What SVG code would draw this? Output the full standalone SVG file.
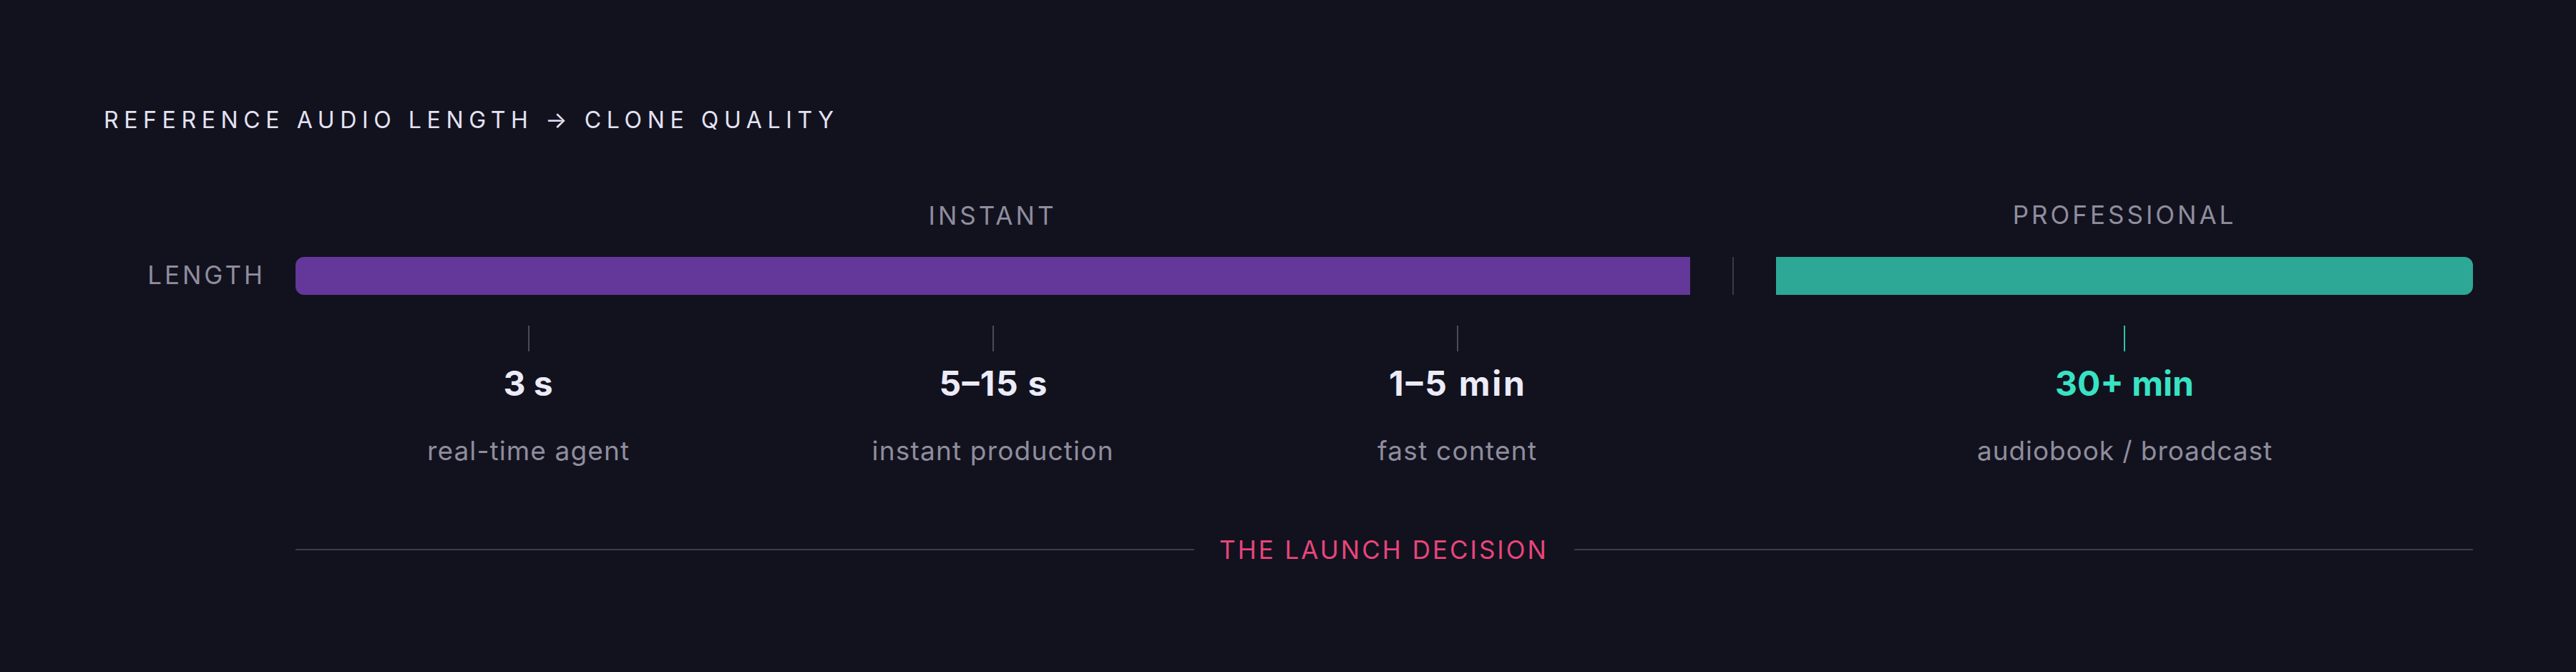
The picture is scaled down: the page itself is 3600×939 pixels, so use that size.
<svg xmlns="http://www.w3.org/2000/svg" width="3600" height="939" viewBox="0 0 3600 939">
<style>
.cap{font-family:Inter,"Liberation Sans",sans-serif;font-size:35px;fill:#8f8d9e;letter-spacing:4px}
.title{font-family:Inter,"Liberation Sans",sans-serif;font-size:32px;fill:#e4e2f2;letter-spacing:6px}
.val{font-family:Inter,"Liberation Sans",sans-serif;font-size:48px;font-weight:700;fill:#ecebf8;text-anchor:middle}
.desc{font-family:Inter,"Liberation Sans",sans-serif;font-size:37px;fill:#8f8d9e;text-anchor:middle}
.tick{stroke:#4a4a5a;stroke-width:2}
</style>
<rect width="3600" height="939" fill="#12121e"/>
<g id="title"><text class="title" x="145" y="179" textLength="1026">REFERENCE AUDIO LENGTH → CLONE QUALITY</text></g>
<g id="length-label"><text class="cap" x="371" y="397" text-anchor="end">LENGTH</text></g>
<g id="instant-bar">
<path d="M425,359 H2362 V412 H425 A12,12 0 0 1 413,400 V371 A12,12 0 0 1 425,359 Z" fill="#64379a"/>
<text class="cap" x="1387" y="314" text-anchor="middle">INSTANT</text>
</g>
<g id="professional-bar">
<path d="M2482,359 H3444 A12,12 0 0 1 3456,371 V400 A12,12 0 0 1 3444,412 H2482 Z" fill="#2ea896"/>
<text class="cap" x="2969" y="313" text-anchor="middle">PROFESSIONAL</text>
</g>
<g id="connectors">
<line x1="2422" y1="359" x2="2422" y2="412" stroke="#3a3a48" stroke-width="2"/>
<line class="tick" x1="739" y1="455" x2="739" y2="491"/>
<line class="tick" x1="1388" y1="455" x2="1388" y2="491"/>
<line class="tick" x1="2037" y1="455" x2="2037" y2="491"/>
<line x1="2969" y1="455" x2="2969" y2="491" stroke="#2ec4a8" stroke-width="2"/>
<line x1="413" y1="768" x2="1669" y2="768" stroke="#3c3c4a" stroke-width="2"/>
<line x1="2200" y1="768" x2="3456" y2="768" stroke="#3c3c4a" stroke-width="2"/>
</g>
<g id="m-3s"><text class="val" x="738" y="553">3 s</text><text class="desc" x="738" y="643" textLength="282">real-time agent</text></g>
<g id="m-5-15s"><text class="val" x="1388" y="553" textLength="151">5–15 s</text><text class="desc" x="1387" y="643" textLength="337">instant production</text></g>
<g id="m-1-5min"><text class="val" x="2036" y="553" textLength="190">1–5 min</text><text class="desc" x="2036" y="643" textLength="222">fast content</text></g>
<g id="m-30min"><text class="val" x="2969" y="553" style="fill:#38e3c4">30+ min</text><text class="desc" x="2969" y="643" textLength="412">audiobook / broadcast</text></g>
<g id="launch-decision"><text class="cap" x="1934" y="781" text-anchor="middle" style="fill:#e8457c;letter-spacing:3px">THE LAUNCH DECISION</text></g>
</svg>
